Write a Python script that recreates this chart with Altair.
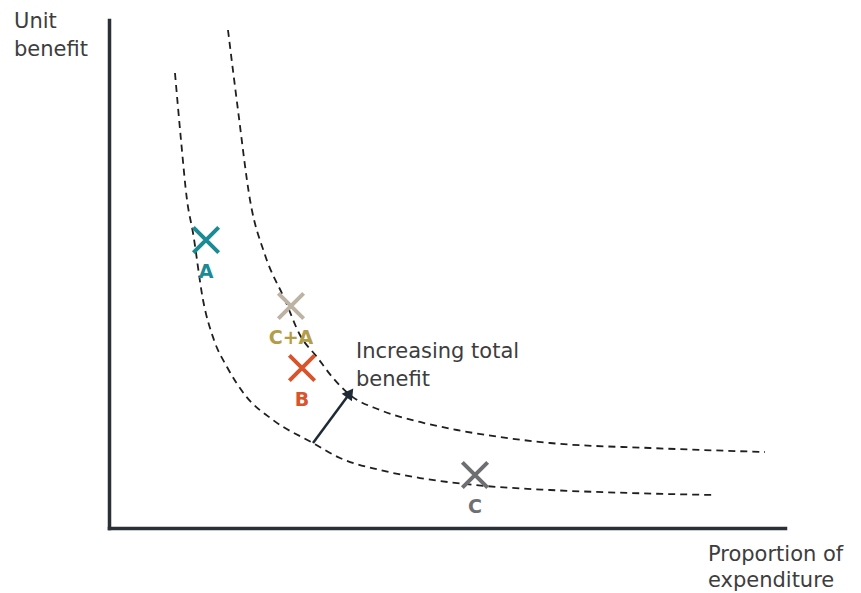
import altair as alt
import pandas as pd

# Indifference-style curves (data units 0-100 on both axes)
inner_x = [9.76, 10.65, 11.54, 12.43, 13.91, 15.53, 17.46, 20.12, 24.26, 30.18, 34.17, 40.09, 46.01, 54.14, 65.24, 77.07, 89.20]
inner_y = [89.57, 76.38, 64.57, 58.07, 44.88, 37.01, 31.69, 26.18, 21.26, 16.73, 13.78, 11.42, 9.84, 8.46, 7.48, 6.89, 6.50]
outer_x = [17.60, 19.08, 20.86, 23.08, 26.04, 28.25, 30.77, 33.14, 35.65, 40.09, 46.01, 51.48, 57.84, 65.24, 80.03, 97.04]
outer_y = [98.03, 82.28, 64.57, 53.74, 44.88, 37.99, 33.66, 29.53, 26.18, 23.23, 20.87, 19.29, 17.91, 16.73, 15.75, 14.96]

# Options
opt_labels = ["A", "C+A", "B", "C"]
opt_x = [14.35, 26.92, 28.55, 54.14]
opt_y = [56.69, 43.70, 31.50, 10.43]
opt_marker_color = ["#1a8b94", "#bcb3a4", "#d9532b", "#6e6f72"]
opt_label_color = ["#1a8b94", "#b39d48", "#d9532b", "#6e6f72"]

# Arrow (start -> end)
arrow_x = [30.18, 35.65]
arrow_y = [16.73, 26.57]

annotation = "Increasing total\nbenefit"
y_title = "Unit\nbenefit"
x_title = "Proportion of\nexpenditure"

curves = pd.concat([
    pd.DataFrame({"x": inner_x, "y": inner_y, "curve": "inner", "o": range(len(inner_x))}),
    pd.DataFrame({"x": outer_x, "y": outer_y, "curve": "outer", "o": range(len(outer_x))}),
])
opts = pd.DataFrame({"label": opt_labels, "x": opt_x, "y": opt_y,
                     "mc": opt_marker_color, "lc": opt_label_color})
arrow = pd.DataFrame({"x": [arrow_x[0]], "y": [arrow_y[0]], "x2": [arrow_x[1]], "y2": [arrow_y[1]]})
head = pd.DataFrame({"x": [arrow_x[1]], "y": [arrow_y[1]]})

xs = alt.Scale(domain=[0, 100], nice=False, zero=False)
ys = alt.Scale(domain=[0, 100], nice=False, zero=False)
X = lambda f="x": alt.X(f, type="quantitative", scale=xs, title=None)
Y = lambda f="y": alt.Y(f, type="quantitative", scale=ys, title=None)

FONT = "DejaVu Sans"
TXT = "#3d3d3d"

lines = alt.Chart(curves).mark_line(
    strokeDash=[7, 5], strokeWidth=1.8, color="#1f1f1f", interpolate="monotone"
).encode(x=X(), y=Y(), detail="curve:N", order="o:Q")

arrow_line = alt.Chart(arrow).mark_rule(strokeWidth=2.5, color="#1f2a36").encode(
    x=X(), y=Y(), x2="x2:Q", y2="y2:Q")
arrow_head = alt.Chart(head).mark_point(
    shape="triangle-up", filled=True, size=160, angle=36, color="#1f2a36", opacity=1
).encode(x=X(), y=Y())

markers = alt.Chart(opts).mark_point(
    shape="M -1 -1 L 1 1 M -1 1 L 1 -1", filled=False, strokeWidth=4, size=640, opacity=1
).encode(x=X(), y=Y(), color=alt.Color("mc:N", scale=None))

labels = alt.Chart(opts).mark_text(
    dy=32, fontSize=19, fontWeight="bold", font=FONT
).encode(x=X(), y=Y(), text="label:N", color=alt.Color("lc:N", scale=None))

ann = alt.Chart(pd.DataFrame({"x": [36.54], "y": [36.8], "t": [annotation]})).mark_text(
    align="left", baseline="top", fontSize=21, font=FONT, color=TXT,
    lineBreak="\n", lineHeight=28
).encode(x=X(), y=Y(), text="t:N")

ytitle = alt.Chart(pd.DataFrame({"x": [-14.05], "y": [101.8], "t": [y_title]})).mark_text(
    align="left", baseline="top", fontSize=21, font=FONT, color=TXT,
    lineBreak="\n", lineHeight=28
).encode(x=X(), y=Y(), text="t:N")

xtitle = alt.Chart(pd.DataFrame({"x": [88.6], "y": [-3.2], "t": [x_title]})).mark_text(
    align="left", baseline="top", fontSize=21, font=FONT, color=TXT,
    lineBreak="\n", lineHeight=26
).encode(x=X(), y=Y(), text="t:N")

chart = alt.layer(lines, arrow_line, arrow_head, markers, labels, ann, ytitle, xtitle).properties(
    width=676, height=508,
    autosize=alt.AutoSizeParams(type="none"),
    padding={"left": 101, "top": 12, "right": 68, "bottom": 80},
).configure_view(stroke=None).configure_axis(
    domainColor="#2b2f36", domainWidth=3.5, domainCap="square", ticks=False, labels=False, grid=False
)

chart.save("out.html", embed_options={"renderer": "svg", "actions": False})
